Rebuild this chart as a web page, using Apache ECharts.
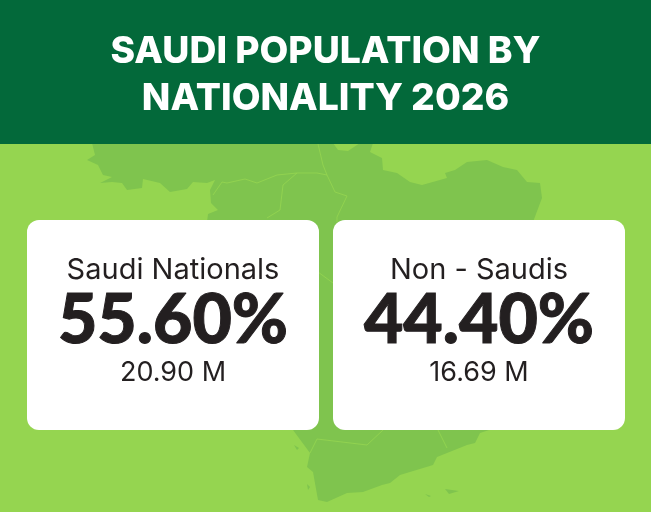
<!DOCTYPE html>
<html><head><meta charset="utf-8">
<style>html,body{margin:0;padding:0;background:#95d550}#c{width:651px;height:512px}</style>
<script src="https://cdn.jsdelivr.net/npm/echarts@6/dist/echarts.min.js"></script>
</head><body><div id="c"></div>
<script>
const chartTitle = 'SAUDI POPULATION BY\nNATIONALITY 2026';
const categories = ['Saudi Nationals', 'Non - Saudis'];
const sharePercent = [55.60, 44.40];
const populationMillions = [20.90, 16.69];

const mapOutline = [[92,143],[95,155],[87,160],[98,165],[103,175],[112,177],[100,183],[112,182],[122,183],[127,190],[142,188],[143,179],[160,183],[170,192],[187,189],[193,182],[207,183],[215,180],[210,190],[211,203],[218,210],[208,214],[207,222],[293,430],[310,453],[307,467],[313,472],[318,500],[327,502],[347,493],[363,492],[382,485],[390,483],[400,475],[433,465],[437,457],[467,445],[475,443],[480,433],[495,428],[533,222],[542,198],[540,183],[527,182],[517,170],[503,167],[487,160],[467,162],[455,170],[445,173],[447,178],[422,185],[410,182],[397,173],[383,170],[382,158],[370,152],[373,143],[360,143],[348,151],[338,150],[333,143]];
const islands = [[[294,445],[299,448],[297,450]],[[307,484],[310,487],[308,490]],[[445,489],[452,490],[459,491],[449,494]],[[425,494],[431,496],[429,497]]];
const borders = [
  [[318,144],[323,165],[327,175],[335,192],[347,196],[337,217],[337,222]],
  [[213,195],[222,182],[227,183],[245,179],[257,183],[277,175],[297,173],[317,173],[327,175]],
  [[297,173],[283,185],[280,210],[267,218]],
  [[318,272],[333,283]],
  [[310,453],[317,439],[367,445],[383,430]],
  [[438,430],[447,448]]
];

const chart = echarts.init(document.getElementById('c'), null, {renderer:'canvas'});
const FONT = 'Inter, "Noto Sans", sans-serif';
const BIG_FONT = 'Lato, Inter, sans-serif';
const ink = '#231f20';
const graphics = [
  {type:'rect', z:0, shape:{x:0,y:0,width:651,height:512}, style:{fill:'#95d550'}},
  {type:'polygon', z:1, shape:{points:mapOutline}, style:{fill:'#7fc44e'}},
  ...islands.map(p => ({type:'polygon', z:1, shape:{points:p}, style:{fill:'#7fc44e'}})),
  ...borders.map(p => ({type:'polyline', z:1, shape:{points:p}, style:{fill:null, stroke:'#95d550', lineWidth:0.8}})),
  {type:'rect', z:1, shape:{x:0,y:0,width:651,height:144}, style:{fill:'#03693a'}}
];

chart.setOption({
  animation:false,
  title:{text:chartTitle, left:'center', top:23, textStyle:{color:'#fff', fontFamily:FONT, fontWeight:800, fontSize:37.3, lineHeight:47}},
  graphic:graphics,
  grid:{left:20, width:612, top:220, height:210},
  xAxis:{type:'category', data:categories, show:false},
  yAxis:{type:'value', min:0, max:1, show:false},
  series:[{
    type:'custom',
    data:categories.map((c,i)=>[i,0]),
    renderItem(params, api){
      const i = params.dataIndex;
      const cx = api.coord([i,0])[0];
      const top = params.coordSys.y;
      const text = (t,y,size,weight,fam,extra) => ({type:'text', style:Object.assign({text:t, x:cx, y:top+y, align:'center', verticalAlign:'middle', fill:ink, font:`${weight} ${size}px ${fam}`}, extra||{})});
      return {type:'group', children:[
        {type:'rect', shape:{x:cx-146,y:top,width:292,height:210,r:12}, style:{fill:'#fff'}},
        text(categories[i],50,29,400,FONT),
        text(sharePercent[i].toFixed(2)+'%',101,68,900,BIG_FONT,{stroke:ink, lineWidth:1}),
        text(populationMillions[i].toFixed(2)+' M',153,27,400,FONT)
      ]};
    }
  }]
});
</script></body></html>
